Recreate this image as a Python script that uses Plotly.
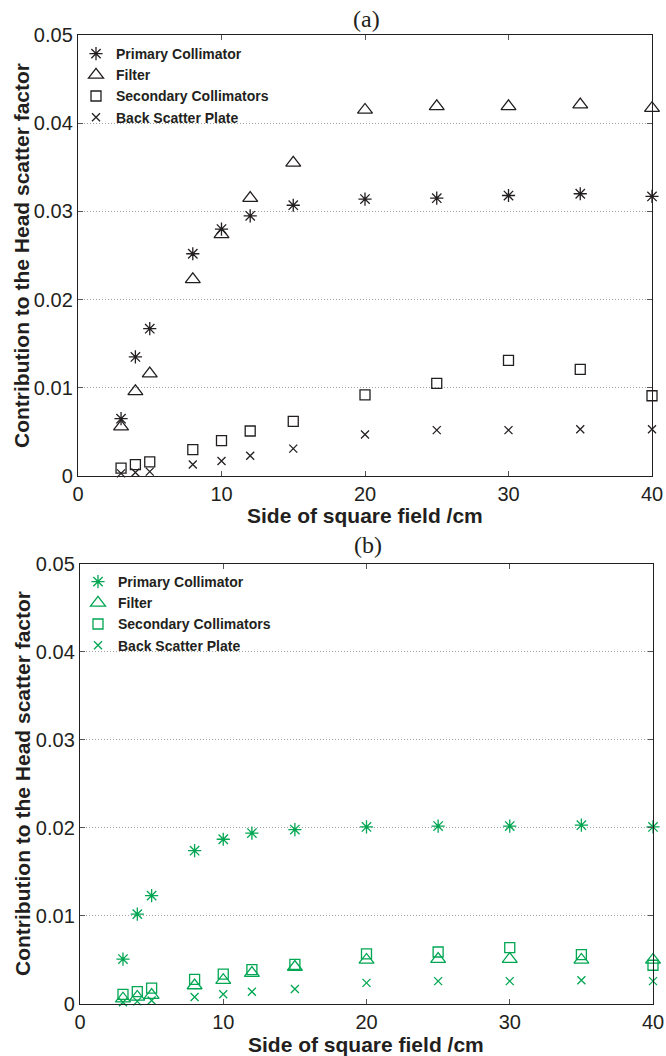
import plotly.graph_objects as go

W, H = 666, 1056

field_cm = [3, 4, 5, 8, 10, 12, 15, 20, 25, 30, 35, 40]

series_names = ["Primary Collimator", "Filter", "Secondary Collimators", "Back Scatter Plate"]

a_primary = [0.0065, 0.0135, 0.0167, 0.0252, 0.0280, 0.0295, 0.0307, 0.0314, 0.0315, 0.0318, 0.0320, 0.0317]
a_filter = [0.0056, 0.0096, 0.0116, 0.0223, 0.0274, 0.0315, 0.0355, 0.0415, 0.0419, 0.0419, 0.0421, 0.0417]
a_secondary = [0.0009, 0.0013, 0.0016, 0.0030, 0.0040, 0.0051, 0.0062, 0.0092, 0.0105, 0.0131, 0.0121, 0.0091]
a_backscatter = [0.0003, 0.0004, 0.0005, 0.0013, 0.0017, 0.0023, 0.0031, 0.0047, 0.0052, 0.0052, 0.0053, 0.0053]

b_primary = [0.0051, 0.0102, 0.0123, 0.0174, 0.0187, 0.0194, 0.0198, 0.0201, 0.0202, 0.0202, 0.0203, 0.0201]
b_filter = [0.0006, 0.0008, 0.0010, 0.0021, 0.0027, 0.0035, 0.0042, 0.0050, 0.0051, 0.0051, 0.0050, 0.0050]
b_secondary = [0.0011, 0.0014, 0.0018, 0.0028, 0.0034, 0.0039, 0.0045, 0.0057, 0.0059, 0.0064, 0.0056, 0.0044]
b_backscatter = [0.0002, 0.0003, 0.0004, 0.0008, 0.0011, 0.0014, 0.0017, 0.0024, 0.0026, 0.0026, 0.0027, 0.0026]

x_ticks = [0, 10, 20, 30, 40]
y_ticks = [0, 0.01, 0.02, 0.03, 0.04, 0.05]
y_ticktext = ["0", "0.01", "0.02", "0.03", "0.04", "0.05"]

BLACK = "#231f20"
GREEN = "#00a651"
SANS = "Liberation Sans, Arial, sans-serif"
SERIF = "Liberation Serif, Times New Roman, serif"

symbols = ["asterisk-open", "triangle-up-open", "square-open", "x-thin-open"]
sizes = [11, 13, 10, 8]

fig = go.Figure()

panels = [
    ("x", "y", "legend", BLACK, [a_primary, a_filter, a_secondary, a_backscatter]),
    ("x2", "y2", "legend2", GREEN, [b_primary, b_filter, b_secondary, b_backscatter]),
]
for xa, ya, leg, col, data in panels:
    for name, vals, sym, sz in zip(series_names, data, symbols, sizes):
        fig.add_trace(go.Scatter(
            x=field_cm, y=vals, name=name, mode="markers",
            xaxis=xa, yaxis=ya, legend=leg, cliponaxis=False,
            marker=dict(symbol=sym, size=sz, color=col, line=dict(color=col, width=1.3)),
        ))

def xaxis(domain, anchor):
    return dict(domain=domain, anchor=anchor, range=[0, 40], tickvals=x_ticks,
                ticks="inside", ticklen=5, tickwidth=1, tickcolor="#555",
                showline=True, linecolor=BLACK, linewidth=1.4, mirror="ticks",
                showgrid=False, zeroline=False, automargin=False,
                tickfont=dict(family=SANS, size=20, color=BLACK))

def yaxis(domain, anchor):
    return dict(domain=domain, anchor=anchor, range=[0, 0.05], tickvals=y_ticks,
                ticktext=y_ticktext, ticks="inside", ticklen=5, tickwidth=1, tickcolor="#555",
                showline=True, linecolor=BLACK, linewidth=1.4, mirror="ticks",
                showgrid=True, gridcolor="#a0a0a0", gridwidth=1, griddash="1px,2px",
                zeroline=False, ticklabelstandoff=0, automargin=False,
                tickfont=dict(family=SANS, size=20, color=BLACK))

def px(xp):
    return xp / W

def py(yp):
    return 1 - yp / H

legend_font = dict(family=SANS, size=14, color=BLACK, weight="bold")

fig.update_layout(
    width=W, height=H, margin=dict(l=0, r=0, t=0, b=0, autoexpand=False),
    paper_bgcolor="white", plot_bgcolor="white",
    xaxis=xaxis([px(78), px(652)], "y"),
    yaxis=yaxis([py(476), py(35)], "x"),
    xaxis2=xaxis([px(80), px(653)], "y2"),
    yaxis2=yaxis([py(1004), py(563.5)], "x2"),
    legend=dict(x=px(76), y=py(38), xanchor="left", yanchor="top",
                bgcolor="rgba(0,0,0,0)", font=legend_font, tracegroupgap=0),
    legend2=dict(x=px(78), y=py(566), xanchor="left", yanchor="top",
                 bgcolor="rgba(0,0,0,0)", font=legend_font, tracegroupgap=0),
    annotations=[
        dict(text="(a)", x=px(366), y=py(19), xref="paper", yref="paper",
             xanchor="center", yanchor="middle", showarrow=False,
             font=dict(family=SERIF, size=24, color=BLACK)),
        dict(text="(b)", x=px(368), y=py(545), xref="paper", yref="paper",
             xanchor="center", yanchor="middle", showarrow=False,
             font=dict(family=SERIF, size=24, color=BLACK)),
        dict(text="Side of square field /cm", x=px(365), y=py(515), xref="paper", yref="paper",
             xanchor="center", yanchor="middle", showarrow=False,
             font=dict(family=SANS, size=21, color=BLACK, weight="bold")),
        dict(text="Side of square field /cm", x=px(366), y=py(1044), xref="paper", yref="paper",
             xanchor="center", yanchor="middle", showarrow=False,
             font=dict(family=SANS, size=21, color=BLACK, weight="bold")),
        dict(text="Contribution to the Head scatter factor", x=px(21), y=py(256),
             xref="paper", yref="paper", textangle=-90,
             xanchor="center", yanchor="middle", showarrow=False,
             font=dict(family=SANS, size=21, color=BLACK, weight="bold")),
        dict(text="Contribution to the Head scatter factor", x=px(22), y=py(784),
             xref="paper", yref="paper", textangle=-90,
             xanchor="center", yanchor="middle", showarrow=False,
             font=dict(family=SANS, size=21, color=BLACK, weight="bold")),
    ],
)

fig.write_html("out.html", config={"displayModeBar": False},
               post_script="document.body.style.margin='0';document.body.style.overflow='hidden';")
